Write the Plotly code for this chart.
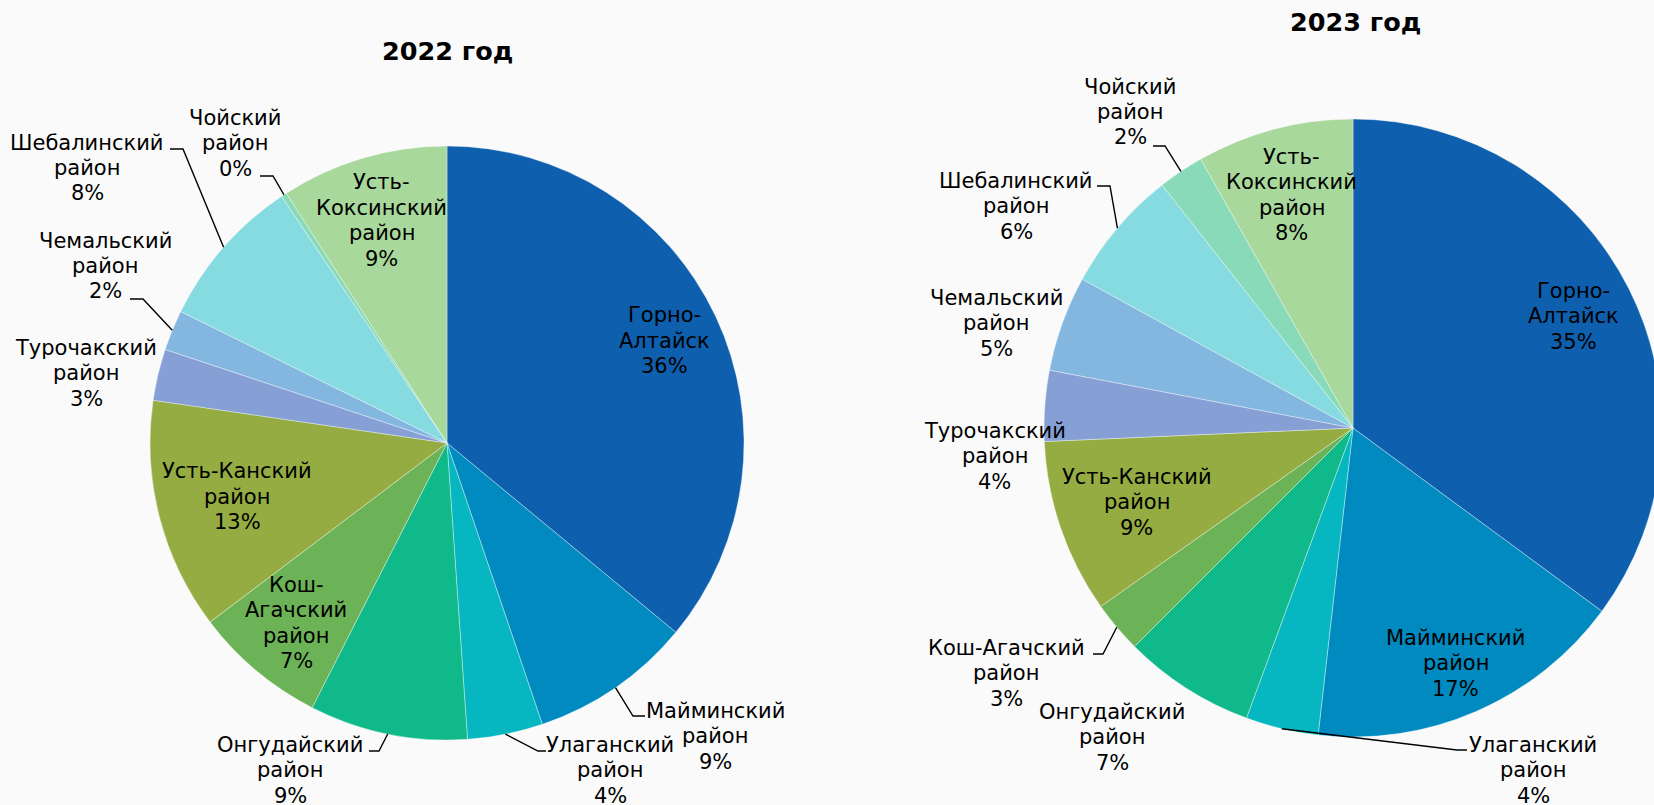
import math
import plotly.graph_objects as go

# ---------------- data ----------------
districts = ["Горно-Алтайск", "Майминский район", "Улаганский район", "Онгудайский район",
             "Кош-Агачский район", "Усть-Канский район", "Турочакский район", "Чемальский район",
             "Шебалинский район", "Чойский район", "Усть-Коксинский район"]

labels_2022 = ["Горно-<br>Алтайск", "Майминский<br>район", "Улаганский<br>район", "Онгудайский<br>район",
               "Кош-<br>Агачский<br>район", "Усть-Канский<br>район", "Турочакский<br>район",
               "Чемальский<br>район", "Шебалинский<br>район", "Чойский<br>район",
               "Усть-<br>Коксинский<br>район"]
labels_2023 = ["Горно-<br>Алтайск", "Майминский<br>район", "Улаганский<br>район", "Онгудайский<br>район",
               "Кош-Агачский<br>район", "Усть-Канский<br>район", "Турочакский<br>район",
               "Чемальский<br>район", "Шебалинский<br>район", "Чойский<br>район",
               "Усть-<br>Коксинский<br>район"]

share_2022 = [36.0, 8.8, 4.1, 8.6, 7.2, 12.6, 2.8, 2.2, 8.3, 0.3, 9.1]
share_2023 = [35.1, 16.7, 3.8, 6.9, 2.7, 9.1, 3.7, 5.0, 6.4, 2.4, 8.2]

titles = ["2022 год", "2023 год"]

colors = ["#0E5FAD", "#008ABF", "#06B7C1", "#10B989", "#6CB257", "#94AC41",
          "#86A0D6", "#84B7DF", "#86DBE1", "#88DAB8", "#A8D89B"]

# ---------------- layout / placement (pixels) ----------------
W, H = 1664, 805          # a bit wider than the window: right pie is cut by the edge as in the reference
FONT = "DejaVu Sans, Verdana, sans-serif"
LBL_SIZE = 21
LINE_GAP = 25.5

pies = [
    dict(cx=447, cy=443, r=297, title_xy=(447, 51)),
    dict(cx=1353, cy=428, r=309, title_xy=(1355, 22)),
]

# label placement: ('in', radial factor) or ('out', dx, dy from pie centre, leader) ;
# leader = (end dx, end dy, elbow dx, elbow dy) relative to label centre
place_2022 = [
    ("in", 0.81), ("out", 268, 293, (-70, -20, -82, -20)), ("out", 163, 327, (-64, -19, -72, -19)),
    ("out", -157, 327, (79, -19, 89, -19)), ("in", 0.79), ("in", 0.73),
    ("out", -361, -70, None), ("out", -342, -177, (25, 33, 38, 33)),
    ("out", -360, -275, (83, -19, 96, -19)), ("out", -212, -300, (25, 33, 38, 33)), ("in", 0.78),
]
place_2023 = [
    ("in", 0.80), ("in", 0.83), ("out", 180, 342, (-66, -20, -76, -20)),
    ("out", -241, 309, None), ("out", -347, 245, (87, -19, 97, -19)), ("in", 0.74),
    ("out", -358, 28, None), ("out", -357, -105, None),
    ("out", -337, -222, (81, -20, 94, -20)), ("out", -223, -316, (23, 34, 35, 34)), ("in", 0.78),
]


def px(x):
    return x / W


def py(y):
    return 1 - y / H


fig = go.Figure()
annotations = []
shapes = []

for pie, values, labels, place, title in zip(pies, [share_2022, share_2023],
                                               [labels_2022, labels_2023],
                                               [place_2022, place_2023], titles):
    cx, cy, r = pie["cx"], pie["cy"], pie["r"]
    fig.add_trace(go.Pie(
        labels=districts, values=values, sort=False, direction="clockwise", rotation=0,
        marker=dict(colors=colors, line=dict(color="rgba(255,255,255,0.6)", width=0.6)),
        textinfo="none", hoverinfo="label+percent", showlegend=False,
        domain=dict(x=[px(cx - r), min(1.0, px(cx + r))], y=[py(cy + r), py(cy - r)]),
    ))
    total = sum(values)
    cum = 0.0
    for v, lab, pl in zip(values, labels, place):
        mid = (cum + v / 2) / total * 2 * math.pi
        cum += v
        pct = round(v / total * 100)
        lines = lab.split("<br>") + [f"{pct}%"]
        sx, sy = math.sin(mid), -math.cos(mid)
        if pl[0] == "in":
            lx, ly = cx + pl[1] * r * sx, cy + pl[1] * r * sy
        else:
            lx, ly = cx + pl[1], cy + pl[2]
            leader = pl[3]
            if leader is not None:
                ex, ey = cx + r * sx, cy + r * sy
                bx, by = lx + leader[2], ly + leader[3]
                tx, ty = lx + leader[0], ly + leader[1]
                shapes.append(dict(
                    type="path", xref="paper", yref="paper",
                    path=f"M {px(ex)},{py(ey)} L {px(bx)},{py(by)} L {px(tx)},{py(ty)}",
                    line=dict(color="#000000", width=1.4),
                ))
        n = len(lines)
        for i, line in enumerate(lines):
            yy = ly + (i - (n - 1) / 2) * LINE_GAP
            annotations.append(dict(
                x=px(lx), y=py(yy), xref="paper", yref="paper", text=line, showarrow=False,
                xanchor="center", yanchor="middle", align="center",
                font=dict(family=FONT, size=LBL_SIZE, color="#000000"),
            ))
    tx, ty = pie["title_xy"]
    annotations.append(dict(
        x=px(tx), y=py(ty), xref="paper", yref="paper", text=f"<b>{title}</b>", showarrow=False,
        xanchor="center", yanchor="middle",
        font=dict(family=FONT, size=25.5, color="#000000"),
    ))

fig.update_layout(
    width=W, height=H, margin=dict(l=0, r=0, t=0, b=0),
    paper_bgcolor="#FAFAFA", plot_bgcolor="#FAFAFA",
    annotations=annotations, shapes=shapes,
)

fig.write_html(
    "out.html",
    config={"displayModeBar": False},
    post_script="document.body.style.margin='0';document.body.style.overflow='hidden';"
                "document.documentElement.style.overflow='hidden';",
)
